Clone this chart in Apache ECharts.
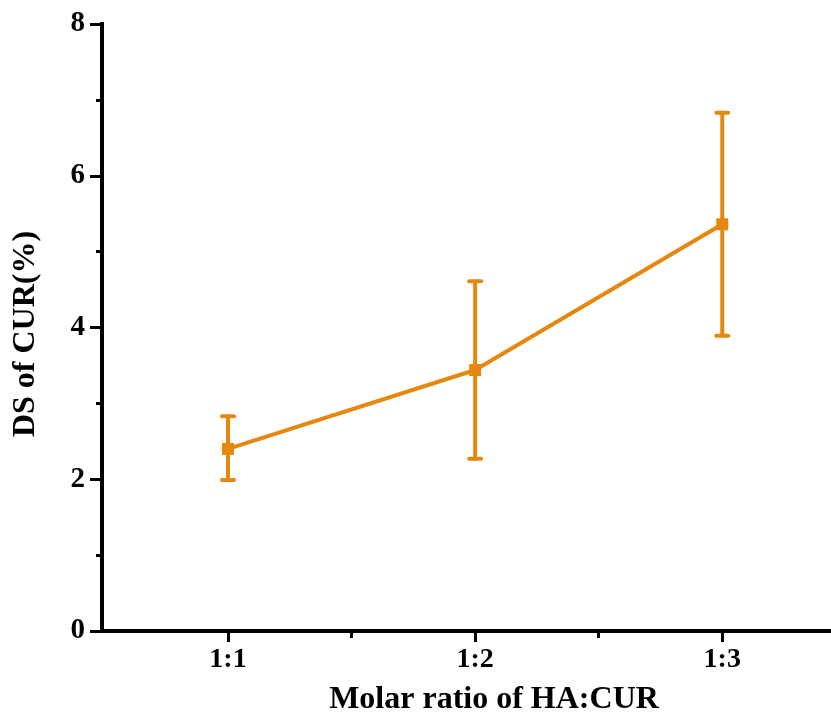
<!DOCTYPE html>
<html>
<head>
<meta charset="utf-8">
<script src="https://cdn.jsdelivr.net/npm/echarts@6/dist/echarts.min.js"></script>
<style>
  html, body { margin: 0; padding: 0; background: #fff; }
  #chart { width: 831px; height: 713px; }
</style>
</head>
<body>
<div id="chart"></div>
<script>
// data
const ratios = ['1:1', '1:2', '1:3']
const xPos = [1, 2, 3]
const dsMean = [2.40, 3.44, 5.36]
const dsLow = [1.99, 2.27, 3.89]
const dsHigh = [2.83, 4.61, 6.83]
const yTicks = [0, 2, 4, 6, 8]

const orange = '#e5880f'
const font = 'Liberation Serif, Times New Roman, serif'

const chart = echarts.init(document.getElementById('chart'))

const lineData = xPos.map((x, i) => [x, dsMean[i]])
const barData = xPos.map((x, i) => [x, dsLow[i], dsHigh[i]])

const option = {
  animation: false,
  grid: { left: 102, right: 0, top: 24, bottom: 82, containLabel: false },
  xAxis: [{
    type: 'value',
    min: 0.49,
    max: 3.44,
    axisLine: { lineStyle: { color: '#000', width: 4 } },
    axisTick: { customValues: xPos, length: 11, lineStyle: { color: '#000', width: 3 } },
    axisLabel: {
      customValues: xPos,
      formatter: v => ratios[Math.round(v) - 1] || '',
      color: '#000', fontFamily: font, fontWeight: 'bold', fontSize: 28, margin: 15
    },
    splitLine: { show: false }
  }, {
    // minor ticks between categories
    type: 'value',
    position: 'bottom',
    min: 0.49,
    max: 3.44,
    axisLine: { show: false },
    axisTick: { customValues: [1.5, 2.5], length: 7, lineStyle: { color: '#000', width: 3 } },
    axisLabel: { show: false },
    splitLine: { show: false }
  }],
  yAxis: {
    type: 'value',
    min: yTicks[0],
    max: yTicks[yTicks.length - 1],
    interval: 2,
    axisLine: { show: true, lineStyle: { color: '#000', width: 4, cap: 'square' } },
    axisTick: { show: true, length: 12, lineStyle: { color: '#000', width: 3 } },
    minorTick: { show: true, splitNumber: 2, length: 6, lineStyle: { color: '#000', width: 3 } },
    axisLabel: { color: '#000', fontFamily: font, fontWeight: 'bold', fontSize: 29, margin: 17 },
    splitLine: { show: false }
  },
  graphic: [{
    type: 'text',
    x: 494, y: 700,
    style: {
      text: 'Molar ratio of HA:CUR', fill: '#000',
      font: 'bold 32px ' + font, align: 'center', verticalAlign: 'middle'
    }
  }, {
    type: 'text',
    x: 26, y: 334,
    rotation: Math.PI / 2,
    style: {
      text: 'DS of CUR(%)', fill: '#000',
      font: 'bold 32px ' + font, align: 'center', verticalAlign: 'middle'
    }
  }],
  series: [{
    type: 'custom',
    data: barData,
    z: 2,
    renderItem: (params, api) => {
      const x = api.value(0)
      const lo = api.coord([x, api.value(1)])
      const hi = api.coord([x, api.value(2)])
      const w = 6
      const style = { stroke: orange, lineWidth: 4, lineCap: 'round' }
      return {
        type: 'group',
        children: [
          { type: 'line', shape: { x1: lo[0], y1: lo[1], x2: hi[0], y2: hi[1] }, style },
          { type: 'line', shape: { x1: hi[0] - w, y1: hi[1], x2: hi[0] + w, y2: hi[1] }, style },
          { type: 'line', shape: { x1: lo[0] - w, y1: lo[1], x2: lo[0] + w, y2: lo[1] }, style }
        ]
      }
    }
  }, {
    type: 'line',
    data: lineData,
    z: 3,
    symbol: 'rect',
    symbolSize: 12,
    itemStyle: { color: orange },
    lineStyle: { color: orange, width: 4 }
  }]
}

chart.setOption(option)
</script>
</body>
</html>
